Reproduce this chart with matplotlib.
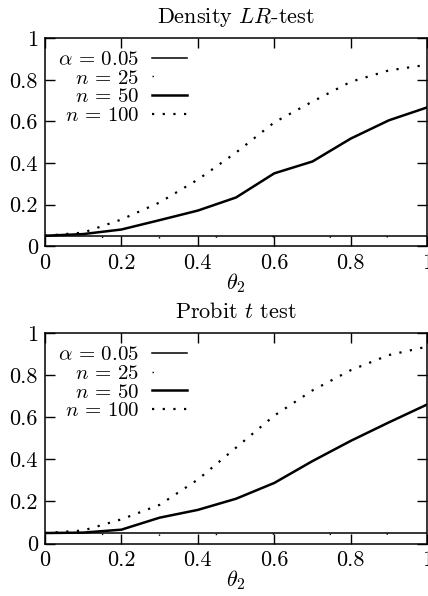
import matplotlib
matplotlib.use("Agg")
import matplotlib.pyplot as plt

plt.rcParams['font.family'] = 'cmr10'
plt.rcParams['mathtext.fontset'] = 'cm'
plt.rcParams['axes.formatter.use_mathtext'] = True
plt.rcParams['axes.unicode_minus'] = False

# datos
theta = [0.0, 0.1, 0.2, 0.3, 0.4, 0.5, 0.6, 0.7, 0.8, 0.9, 1.0]
alpha_level = [0.05] * len(theta)

lr_n25 = [0.05, 0.045, 0.04, 0.04, 0.042, 0.045, 0.045, 0.043, 0.044, 0.045, 0.045]
lr_n50 = [0.05, 0.058, 0.08, 0.125, 0.171, 0.234, 0.35, 0.407, 0.517, 0.605, 0.667]
lr_n100 = [0.05, 0.065, 0.128, 0.21, 0.32, 0.45, 0.595, 0.695, 0.79, 0.845, 0.872]

pt_n25 = [0.05, 0.045, 0.042, 0.04, 0.042, 0.044, 0.045, 0.043, 0.044, 0.045, 0.045]
pt_n50 = [0.05, 0.052, 0.066, 0.123, 0.16, 0.213, 0.288, 0.392, 0.488, 0.576, 0.661]
pt_n100 = [0.05, 0.062, 0.115, 0.184, 0.304, 0.456, 0.608, 0.728, 0.824, 0.896, 0.936]

tick_vals = [0, 0.2, 0.4, 0.6, 0.8, 1]
tick_labels = ['0', '0.2', '0.4', '0.6', '0.8', '1']
legend_labels = [r'$\alpha\,=\,0.05$', r'$n\,=\,25$', r'$n\,=\,50$', r'$n\,=\,100$']


def panel(ax, title, n25, n50, n100):
    ax.plot(theta, alpha_level, color='black', lw=1.1, label=legend_labels[0])
    ax.plot(theta, n25, color='black', lw=1.0, linestyle=(0, (1, 40)), label=legend_labels[1])
    ax.plot(theta, n50, color='black', lw=1.8, label=legend_labels[2])
    ax.plot(theta, n100, color='black', lw=1.6, linestyle=(0, (1, 3.8)), label=legend_labels[3])

    ax.set_xlim(0, 1)
    ax.set_ylim(0, 1)
    ax.set_xticks(tick_vals)
    ax.set_xticklabels(tick_labels)
    ax.set_yticks(tick_vals)
    ax.set_yticklabels(tick_labels)
    ax.tick_params(direction='in', top=True, right=True, length=7, width=1,
                   labelsize=16, color='black')
    ax.tick_params(axis='y', pad=5)
    ax.tick_params(axis='x', pad=5)
    for s in ax.spines.values():
        s.set_linewidth(1.1)
    ax.set_xlabel(r'$\theta_2$', fontsize=16, labelpad=-1)
    ax.set_title(title, fontsize=16, pad=11)
    ax.legend(loc='upper left', bbox_to_anchor=(0.035, 0.94), frameon=False,
              markerfirst=False, fontsize=15, handlelength=1.7,
              handletextpad=0.6, labelspacing=0.0, borderpad=0,
              borderaxespad=0)


fig = plt.figure(figsize=(4.28, 5.96), dpi=100)
ax1 = fig.add_axes([0.105, 0.587, 0.893, 0.349])
ax2 = fig.add_axes([0.105, 0.088, 0.893, 0.353])

panel(ax1, r'Density $LR$-test', lr_n25, lr_n50, lr_n100)
panel(ax2, r'Probit $t$ test', pt_n25, pt_n50, pt_n100)

fig.savefig('out.png', dpi=100)
